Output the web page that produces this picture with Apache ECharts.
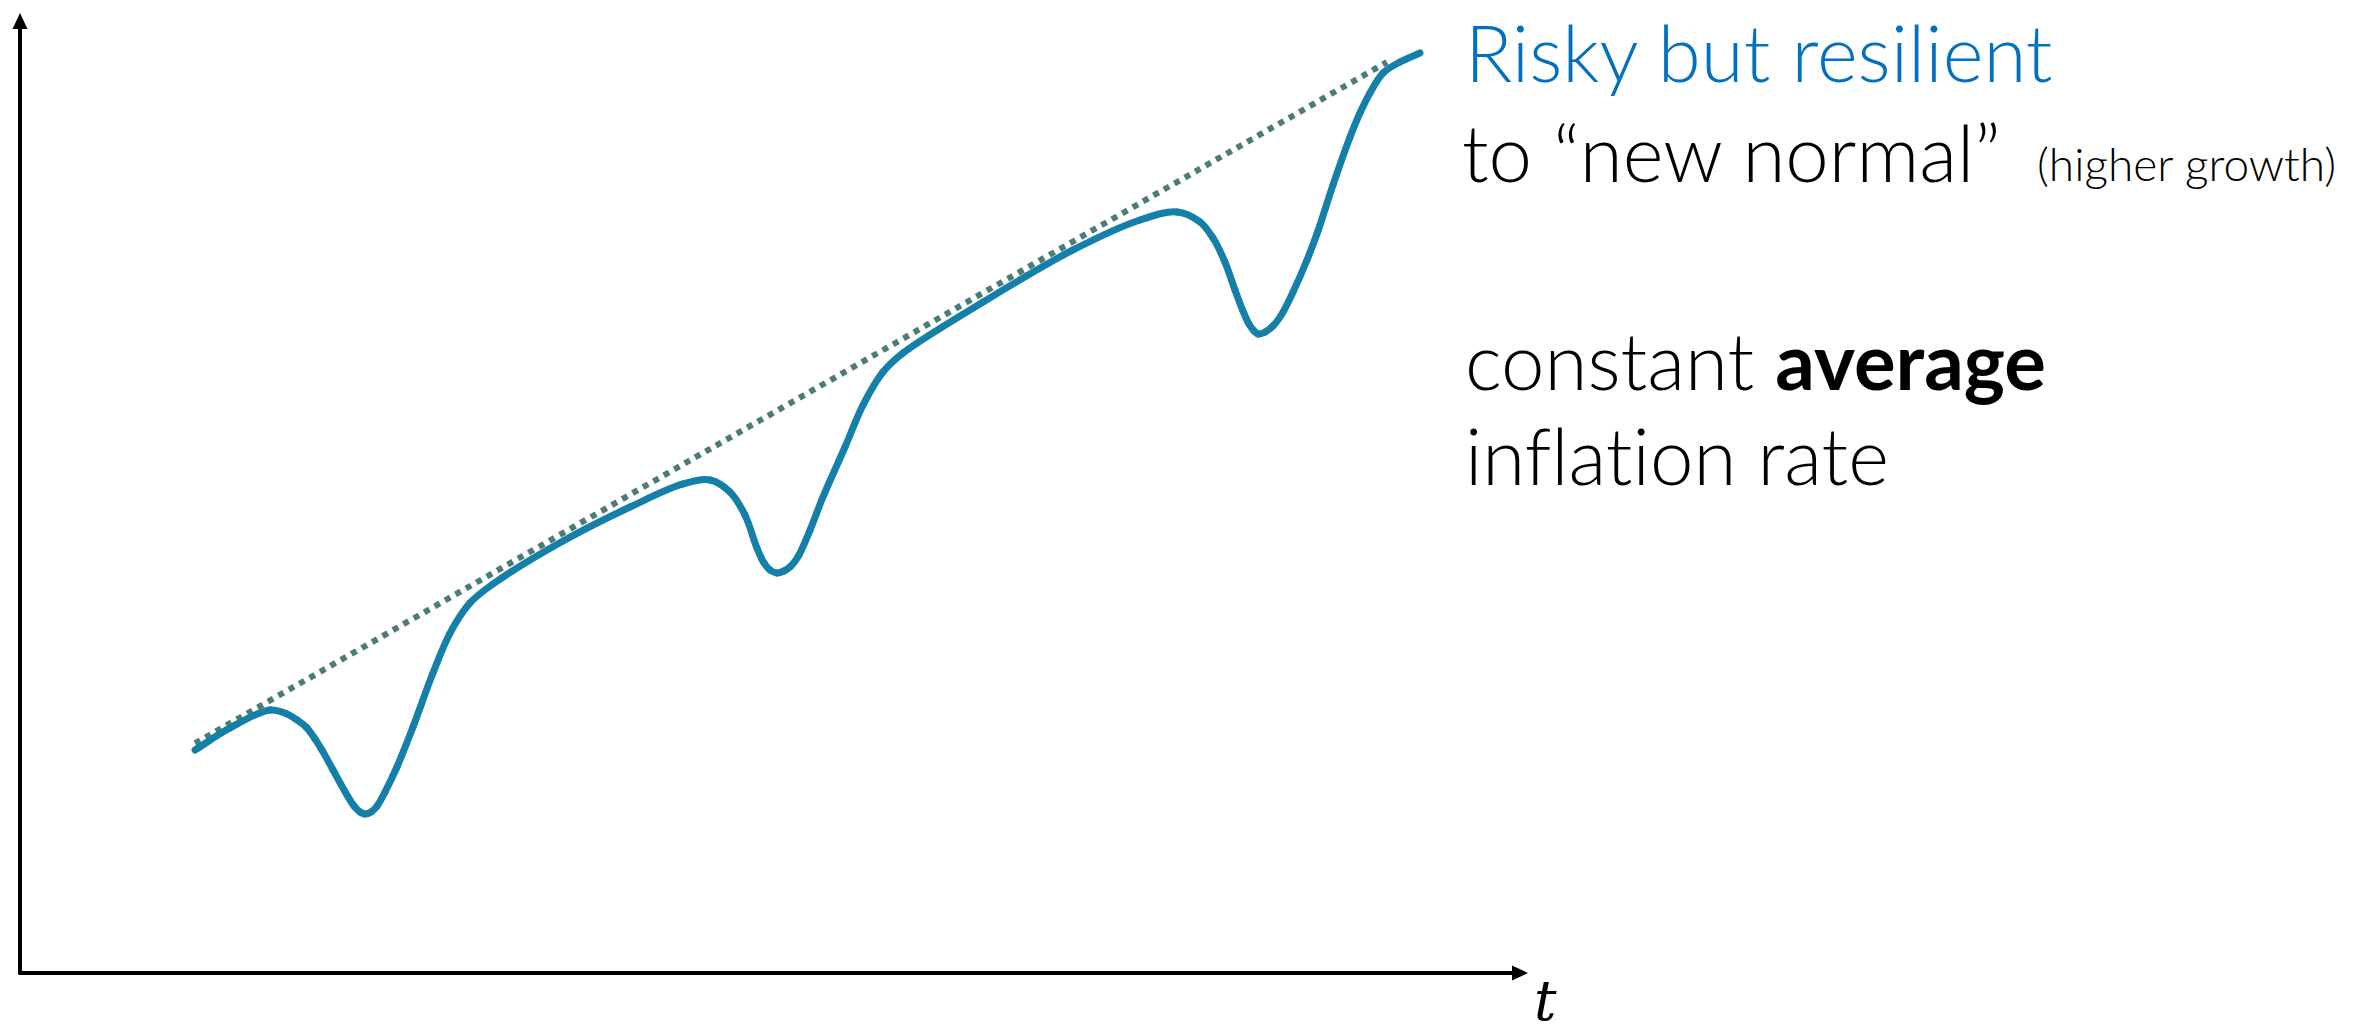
<!DOCTYPE html>
<html>
<head>
<meta charset="utf-8">
<title>Risky but resilient</title>
<script src="https://cdn.jsdelivr.net/npm/echarts@6/dist/echarts.min.js"></script>
<style>
  html, body { margin: 0; padding: 0; background: #ffffff; }
  #chart { width: 2354px; height: 1036px; }
  #chart text { font-variant-ligatures: none !important; font-feature-settings: "liga" 0, "dlig" 0, "clig" 0 !important; }
</style>
</head>
<body>
<div id="chart"></div>
<script>
// Time (t) and price-level path with three shocks and recoveries
const pathT = [11.67, 14.00, 16.67, 17.80, 18.47, 19.07, 19.67, 20.13, 20.87, 21.80, 22.27, 22.67, 23.00,
  23.40, 23.80, 24.33, 25.13, 26.20, 27.53, 28.67, 30.00, 31.53, 36.20, 40.67, 44.20, 46.00, 47.33,
  48.33, 49.13, 49.60, 50.00, 50.47, 50.93, 51.40, 51.93, 52.67, 53.53, 55.00, 56.20, 57.53, 58.87,
  64.20, 70.20, 74.67, 77.13, 78.67, 79.53, 80.33, 81.00, 81.53, 81.93, 82.27, 82.53, 83.00, 83.53,
  84.13, 84.87, 85.80, 86.53, 87.53, 88.67, 89.33, 90.00, 90.87, 92.00, 93.33];
const pathV = [23.42, 25.74, 27.63, 27.21, 26.58, 25.84, 24.58, 23.42, 21.32, 18.70, 17.54, 16.91, 16.70,
  16.91, 17.54, 19.01, 21.64, 25.84, 31.51, 35.71, 38.87, 40.86, 45.38, 48.95, 51.37, 51.79, 50.53,
  48.11, 44.64, 43.07, 42.33, 42.02, 42.23, 42.75, 43.91, 46.53, 50.00, 55.25, 59.66, 63.13, 65.13,
  70.48, 75.95, 79.10, 79.94, 78.89, 77.21, 74.68, 71.74, 69.54, 68.17, 67.44, 67.12, 67.33, 67.96,
  69.22, 71.53, 74.89, 77.94, 82.77, 87.82, 90.34, 92.44, 94.54, 95.69, 96.64];

// Constant average trend
const trendT = [11.67, 91.13];
const trendV = [24.13, 95.69];

// Annotation text
const titleLine = 'Risky but resilient';
const subLineMain = 'to \u201cnew normal\u201d';
const subLineNote = '(higher growth)';
const noteLine1a = 'constant ';
const noteLine1b = 'average';
const noteLine2 = 'inflation rate';
const axisName = 't';

const FONT = 'Lato, "Open Sans", sans-serif';
const MAIN_SIZE = 78;
const NOTE_SIZE = 46;
const PATH_COLOR = '#1480a9';

function measure(text, size, weight) {
  const c = document.createElement('canvas').getContext('2d');
  c.font = (weight || 300) + ' ' + size + 'px ' + FONT;
  return c.measureText(text).width;
}

const zip = (a, b) => a.map((x, i) => [x, b[i]]);

// baseline -> middle offset for the graphic text elements
const mid = (baseline, size) => baseline - 0.36 * size;

// Each data item draws the piece of curve up to the next point as a
// centripetal Catmull-Rom segment (cubic Bezier) in pixel space.
function renderPathSegment(params, api) {
  const n = params.dataInsideLength;
  const i = params.dataIndexInside;
  if (i >= n - 1) return null;
  const at = k => {
    const j = Math.max(0, Math.min(n - 1, k));
    return api.coord([api.value(0, j), api.value(1, j)]);
  };
  const p0 = at(i - 1), p1 = at(i), p2 = at(i + 1), p3 = at(i + 2);
  const dist = (a, b) => Math.hypot(b[0] - a[0], b[1] - a[1]);
  const d1 = Math.sqrt(dist(p0, p1)), d2 = Math.sqrt(dist(p1, p2)), d3 = Math.sqrt(dist(p2, p3));
  let c1, c2;
  if (d1 < 1e-6) {
    c1 = [p1[0] + (p2[0] - p1[0]) / 3, p1[1] + (p2[1] - p1[1]) / 3];
  } else {
    const a = d1 * d1, b = d2 * d2, m = 2 * a + 3 * d1 * d2 + b, q = 3 * d1 * (d1 + d2);
    c1 = [(a * p2[0] - b * p0[0] + m * p1[0]) / q, (a * p2[1] - b * p0[1] + m * p1[1]) / q];
  }
  if (d3 < 1e-6) {
    c2 = [p2[0] - (p2[0] - p1[0]) / 3, p2[1] - (p2[1] - p1[1]) / 3];
  } else {
    const a = d3 * d3, b = d2 * d2, m = 2 * a + 3 * d3 * d2 + b, q = 3 * d3 * (d3 + d2);
    c2 = [(a * p1[0] - b * p3[0] + m * p2[0]) / q, (a * p1[1] - b * p3[1] + m * p2[1]) / q];
  }
  return {
    type: 'bezierCurve',
    shape: { x1: p1[0], y1: p1[1], x2: p2[0], y2: p2[1], cpx1: c1[0], cpy1: c1[1], cpx2: c2[0], cpy2: c2[1] },
    style: { stroke: PATH_COLOR, lineWidth: 7, fill: null, lineCap: 'round' },
    silent: true
  };
}

const chart = echarts.init(document.getElementById('chart'), null, { renderer: 'svg' });

chart.setOption({
  backgroundColor: '#ffffff',
  animation: false,
  grid: { left: 20, right: 834, top: 21, bottom: 63 },
  xAxis: {
    type: 'value', min: 0, max: 100,
    axisLine: { show: true, onZero: false, symbol: ['none', 'triangle'], symbolSize: [15, 16],
      lineStyle: { color: '#000000', width: 4 } },
    axisTick: { show: false }, axisLabel: { show: false }, splitLine: { show: false }
  },
  yAxis: {
    type: 'value', min: 0, max: 100,
    axisLine: { show: true, onZero: false, symbol: ['none', 'triangle'], symbolSize: [15, 16],
      lineStyle: { color: '#000000', width: 4 } },
    axisTick: { show: false }, axisLabel: { show: false }, splitLine: { show: false }
  },
  series: [
    {
      type: 'line',
      name: 'trend',
      data: zip(trendT, trendV),
      showSymbol: false,
      lineStyle: { color: '#4b7c78', width: 6, type: [6, 6], cap: 'butt' },
      z: 2
    },
    {
      type: 'custom',
      name: 'path',
      data: zip(pathT, pathV),
      renderItem: renderPathSegment,
      z: 3
    }
  ],
  graphic: [
    { type: 'text', style: { x: 1465, y: mid(80, MAIN_SIZE), text: titleLine, fill: '#0070c0',
        font: '300 ' + MAIN_SIZE + 'px ' + FONT, verticalAlign: 'middle' } },
    { type: 'text', style: { x: 1462, y: mid(180, MAIN_SIZE), text: subLineMain, fill: '#000000',
        font: '300 ' + MAIN_SIZE + 'px ' + FONT, verticalAlign: 'middle' } },
    { type: 'text', style: { x: 2037, y: mid(180, NOTE_SIZE), text: subLineNote, fill: '#000000',
        font: '300 ' + NOTE_SIZE + 'px ' + FONT, verticalAlign: 'middle' } },
    { type: 'text', style: { x: 1465, y: mid(388, MAIN_SIZE), text: noteLine1a, fill: '#000000',
        font: '300 ' + MAIN_SIZE + 'px ' + FONT, verticalAlign: 'middle' } },
    { type: 'text', style: { x: 1465 + measure(noteLine1a, MAIN_SIZE, 300), y: mid(388, MAIN_SIZE), text: noteLine1b, fill: '#000000',
        font: 'bold ' + MAIN_SIZE + 'px ' + FONT, verticalAlign: 'middle' } },
    { type: 'text', style: { x: 1465, y: mid(483, MAIN_SIZE), text: noteLine2, fill: '#000000',
        font: '300 ' + MAIN_SIZE + 'px ' + FONT, verticalAlign: 'middle' } },
    { type: 'text', style: { x: 1534, y: mid(1021, 56), text: axisName, fill: '#000000',
        font: 'italic 56px "DejaVu Serif", serif', verticalAlign: 'middle' } }
  ]
});
</script>
</body>
</html>
